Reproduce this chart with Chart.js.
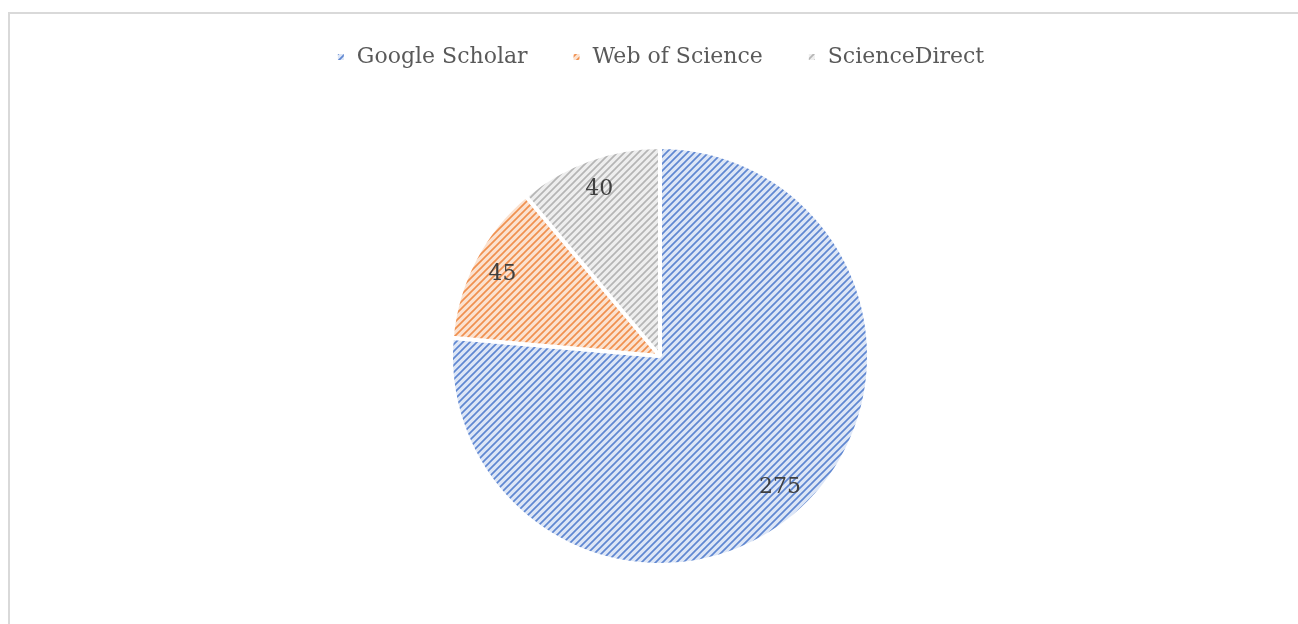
<!DOCTYPE html>
<html>
<head>
<meta charset="utf-8">
<script src="https://cdn.jsdelivr.net/npm/chart.js@4.4.1/dist/chart.umd.min.js"></script>
<style>
  body { margin: 0; background: #fff; }
  #wrap { position: relative; width: 1298px; height: 624px; overflow: hidden; }
  #frame { position: absolute; left: 8px; top: 12px; width: 1400px; height: 700px;
           border-top: 2px solid #d9d9d9; border-left: 2px solid #d9d9d9; }
  canvas { position: absolute; left: 0; top: 0; }
</style>
</head>
<body>
<div id="wrap">
  <div id="frame"></div>
  <canvas id="pieChart" width="1298" height="624"></canvas>
</div>
<script>
const sources = ['Google Scholar', 'Web of Science', 'ScienceDirect'];
const articleCounts = [275, 45, 40];
const stripeBack = ['#dde6f6', '#fbe2d0', '#eeeeee'];
const stripeLine = ['#5f87d1', '#f0904f', '#b5b5b5'];

// diagonal hatch like the office "wide upward diagonal" fill
function makeStripes(bg, fg) {
  const n = 7;
  const c = document.createElement('canvas');
  c.width = n;
  c.height = n;
  const g = c.getContext('2d');
  g.fillStyle = bg;
  g.fillRect(0, 0, n, n);
  g.strokeStyle = fg;
  g.lineWidth = 1.7;
  g.beginPath();
  g.moveTo(-1, n + 1); g.lineTo(n + 1, -1);
  g.moveTo(-1, 1); g.lineTo(1, -1);
  g.moveTo(n - 1, n + 1); g.lineTo(n + 1, n - 1);
  g.stroke();
  return g.createPattern(c, 'repeat');
}

const fills = sources.map((s, i) => makeStripes(stripeBack[i], stripeLine[i]));

// extra room under the legend so the pie sits lower
const legendGap = {
  id: 'legendGap',
  afterInit(chart) {
    const legend = chart.legend;
    const fit = legend.fit;
    legend.fit = function () {
      fit.call(legend);
      legend.height += 32;
    };
  }
};

const sliceLabels = {
  id: 'sliceLabels',
  afterDatasetsDraw(chart) {
    const ctx = chart.ctx;
    const meta = chart.getDatasetMeta(0);
    ctx.save();
    ctx.font = '22px "DejaVu Serif"';
    ctx.fillStyle = '#404040';
    ctx.textAlign = 'center';
    ctx.textBaseline = 'middle';
    meta.data.forEach((arc, i) => {
      const mid = (arc.startAngle + arc.endAngle) / 2;
      const r = arc.outerRadius * 0.85;
      ctx.fillText(String(articleCounts[i]), arc.x + Math.cos(mid) * r, arc.y + Math.sin(mid) * r);
    });
    ctx.restore();
  }
};

new Chart(document.getElementById('pieChart').getContext('2d'), {
  type: 'pie',
  data: {
    labels: sources,
    datasets: [{
      data: articleCounts,
      backgroundColor: fills,
      borderColor: '#ffffff',
      borderWidth: 4,
      radius: 209
    }]
  },
  options: {
    responsive: false,
    animation: false,
    layout: { padding: { top: 2, bottom: 22, left: 22, right: 0 } },
    plugins: {
      tooltip: { enabled: false },
      legend: {
        position: 'top',
        labels: {
          font: { family: 'DejaVu Serif', size: 22 },
          color: '#595959',
          boxWidth: 10,
          boxHeight: 10,
          padding: 44
        }
      }
    }
  },
  plugins: [legendGap, sliceLabels]
});
</script>
</body>
</html>
